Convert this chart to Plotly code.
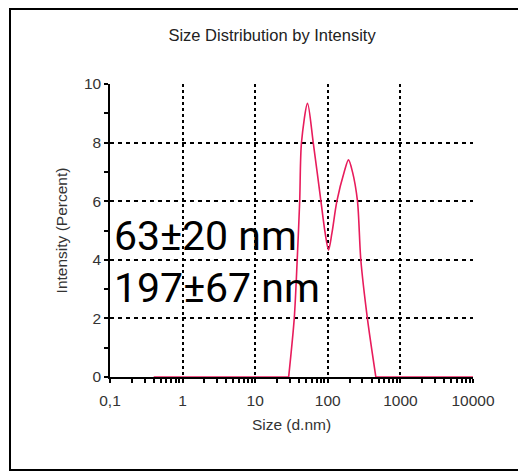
import plotly.graph_objects as go

# Size distribution data (d.nm vs intensity %)
sizes = [0.4, 28.9, 34.5, 37.9, 41.0, 43.4, 52.6, 63.0, 80.4, 92.1, 102.3, 113.8,
         133.4, 168.2, 192.8, 218.8, 256.3, 285, 351, 459, 10000]
intensity = [0, 0, 2, 4, 6, 8, 9.34, 8, 6, 4.9, 4.33, 4.9,
             6, 7.0, 7.41, 7.0, 6, 4, 2, 0, 0]

x_tickvals = [0.1, 1, 10, 100, 1000, 10000]
x_ticktext = ["0,1", "1", "10", "100", "1000", "10000"]
y_tickvals = [0, 2, 4, 6, 8, 10]

labels = ["63\u00b120 nm", "197\u00b167 nm"]

small_font = dict(family="Liberation Sans, Arial, sans-serif", size=15.5, color="#333333")
red = "rgb(232,28,92)"

fig = go.Figure()

# flat baseline parts, then the peaks as a smooth curve
fig.add_trace(go.Scatter(x=sizes[:2], y=intensity[:2], mode="lines",
                         line=dict(color=red, width=1.6), showlegend=False, hoverinfo="skip"))
fig.add_trace(go.Scatter(x=sizes[-2:], y=intensity[-2:], mode="lines",
                         line=dict(color=red, width=1.6), showlegend=False, hoverinfo="skip"))
fig.add_trace(go.Scatter(x=sizes[1:-1], y=intensity[1:-1], mode="lines",
                         line=dict(color=red, width=1.6, shape="spline", smoothing=0.8),
                         showlegend=False, hoverinfo="skip"))

fig.update_layout(
    width=526, height=474,
    margin=dict(l=102, r=61, t=76, b=105),
    paper_bgcolor="white", plot_bgcolor="white",
    title=dict(text="Size Distribution by Intensity", x=0.502, xanchor="center",
               y=1 - 27 / 474, yanchor="middle",
               font=dict(family="Liberation Sans, Arial, sans-serif", size=16.5, color="#222222")),
    xaxis=dict(type="log", range=[-1, 4], tickvals=x_tickvals, ticktext=x_ticktext,
               showline=True, linecolor="black", linewidth=1.5,
               ticks="outside", ticklen=4, tickwidth=1.5, tickcolor="black",
               minor=dict(ticks="outside", ticklen=4, tickwidth=1.5, tickcolor="black",
                          dtick="D1", showgrid=False),
               showgrid=True, gridcolor="black", gridwidth=1.5, griddash="dot",
               zeroline=False, tickfont=small_font, ticklabelstandoff=5, layer="below traces",
               title=dict(text="Size (d.nm)", standoff=11, font=small_font)),
    yaxis=dict(range=[0, 10], tickvals=y_tickvals,
               showline=True, linecolor="black", linewidth=1.5,
               ticks="outside", ticklen=4, tickwidth=1.5, tickcolor="black",
               minor=dict(ticks="outside", ticklen=4, tickwidth=1.5, tickcolor="black",
                          dtick=1, showgrid=False),
               showgrid=True, gridcolor="black", gridwidth=1.5, griddash="4px,4px",
               zeroline=False, tickfont=small_font, layer="below traces",
               title=dict(text="Intensity (Percent)", standoff=12, font=small_font)),
)

# outer frame
fig.add_shape(type="rect", xref="paper", yref="paper",
              x0=(2 - 102) / 363, x1=(511 - 102) / 363,
              y0=(369 - 462) / 293, y1=(369 - 1) / 293,
              line=dict(color="black", width=2), layer="below")

# large annotation labels
for lab, yv in zip(labels, [4.8, 3.05]):
    fig.add_annotation(text=lab, x=0.006, xref="paper", y=yv, yref="y",
                       xanchor="left", yanchor="middle", showarrow=False,
                       font=dict(family="Roboto, sans-serif", size=41, color="black"))

fig.write_html("out.html")
